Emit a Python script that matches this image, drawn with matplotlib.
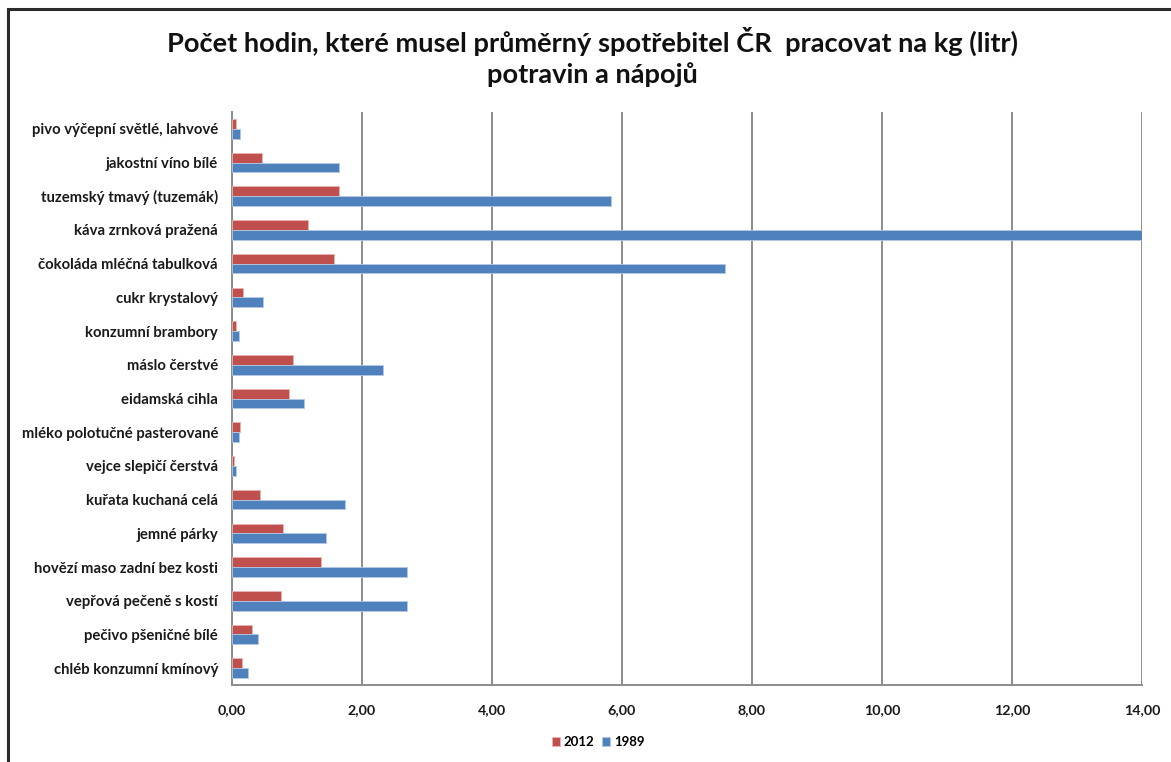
import matplotlib
matplotlib.use("Agg")
import matplotlib.pyplot as plt
from matplotlib.patches import Rectangle
from matplotlib.ticker import FuncFormatter, MultipleLocator
import numpy as np

plt.rcParams["font.family"] = ["Lato", "DejaVu Sans"]

categories = [
    "pivo výčepní světlé, lahvové",
    "jakostní víno bílé",
    "tuzemský tmavý (tuzemák)",
    "káva zrnková pražená",
    "čokoláda mléčná tabulková",
    "cukr krystalový",
    "konzumní brambory",
    "máslo čerstvé",
    "eidamská cihla",
    "mléko polotučné pasterované",
    "vejce slepičí čerstvá",
    "kuřata kuchaná celá",
    "jemné párky",
    "hovězí maso zadní bez kosti",
    "vepřová pečeně s kostí",
    "pečivo pšeničné bílé",
    "chléb konzumní kmínový",
]
hours_2012 = [0.06, 0.46, 1.64, 1.17, 1.57, 0.17, 0.06, 0.94, 0.88, 0.13,
              0.03, 0.43, 0.78, 1.37, 0.75, 0.30, 0.16]
hours_1989 = [0.13, 1.64, 5.83, 14.00, 7.58, 0.47, 0.10, 2.33, 1.10, 0.11,
              0.06, 1.74, 1.45, 2.69, 2.69, 0.40, 0.25]
series_labels = ["2012", "1989"]

RED = "#C0504D"
BLUE = "#4F81BD"
GRID = "#8C8C8C"

W, H = 1171, 762
fig = plt.figure(figsize=(W / 100, H / 100), dpi=100)
fig.patch.set_facecolor("white")

# outer chart frame (runs off the right and bottom edges)
fig.add_artist(Rectangle((8 / W, -0.1), 1.2, (1 - 9 / H) + 0.1,
                         transform=fig.transFigure, fill=False,
                         edgecolor="#2b2b2b", linewidth=2.2, clip_on=False))

left, right = 232 / W, 1142 / W
top, bottom = 1 - 112 / H, 1 - 685 / H
ax = fig.add_axes([left, bottom, right - left, top - bottom])

y = np.arange(len(categories))
bh = 0.29
ax.barh(y - bh / 2, hours_2012, height=bh, color=RED, edgecolor="#E8B4B3",
        linewidth=0.6, label=series_labels[0], zorder=3)
ax.barh(y + bh / 2, hours_1989, height=bh, color=BLUE, edgecolor="#B4C8E3",
        linewidth=0.6, label=series_labels[1], zorder=3)

ax.set_xlim(0, 14)
ax.set_ylim(len(categories) - 0.5, -0.5)
ax.xaxis.set_major_locator(MultipleLocator(2))
ax.xaxis.set_major_formatter(FuncFormatter(lambda v, p: f"{v:.2f}".replace(".", ",")))
ax.set_yticks(y)
ax.set_yticklabels(categories)

ax.grid(axis="x", color=GRID, linewidth=1.4, zorder=0)
ax.spines["top"].set_visible(False)
ax.spines["right"].set_visible(False)
ax.spines["left"].set_color(GRID)
ax.spines["left"].set_linewidth(1.4)
ax.spines["bottom"].set_color(GRID)
ax.spines["bottom"].set_linewidth(1.4)
ax.tick_params(axis="both", length=0)
ax.tick_params(axis="y", pad=10, labelsize=10.7)
ax.tick_params(axis="x", pad=14, labelsize=10.3)
for lbl in ax.get_yticklabels() + ax.get_xticklabels():
    lbl.set_fontweight("bold")
    lbl.set_color("#1a1a1a")

fig.text(0.506, 1 - 41 / H, "Počet hodin, které musel průměrný spotřebitel ČR  pracovat na kg (litr)",
         ha="center", va="center", fontsize=19.6, fontweight="bold", color="#111111")
fig.text(0.506, 1 - 75 / H, "potravin a nápojů",
         ha="center", va="center", fontsize=19.6, fontweight="bold", color="#111111")

leg = fig.legend(loc="center", bbox_to_anchor=(598 / W, 1 - 742 / H), ncol=2,
                 frameon=False, fontsize=9.5, handlelength=0.6, handleheight=0.6,
                 handletextpad=0.3, columnspacing=0.6)
for t in leg.get_texts():
    t.set_fontweight("bold")

fig.savefig("out.png", dpi=100, facecolor="white")
